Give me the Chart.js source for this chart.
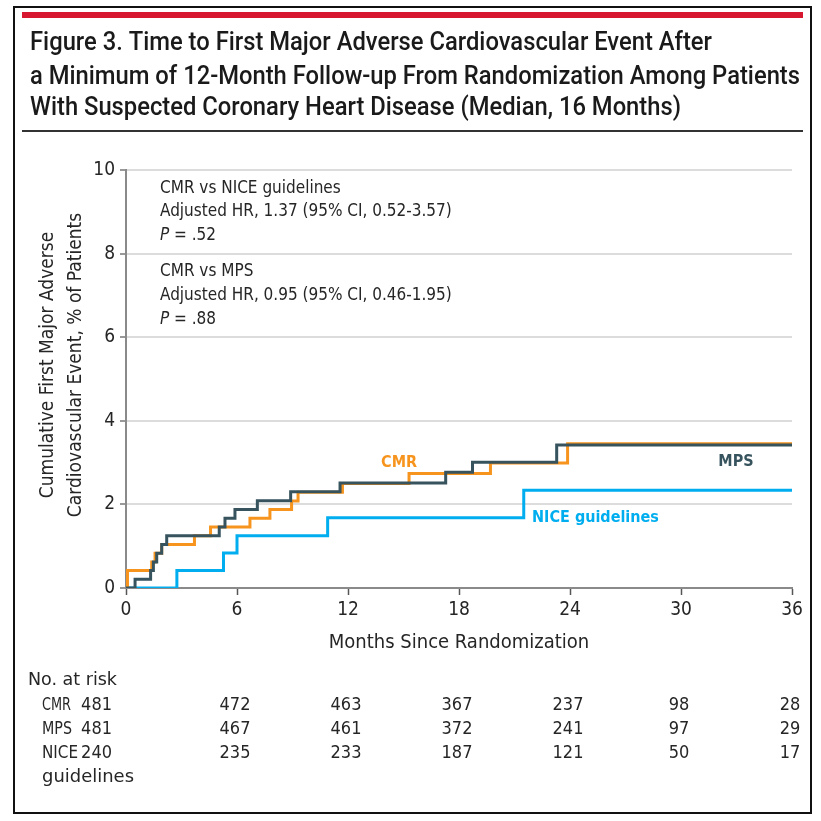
<!DOCTYPE html>
<html>
<head>
<meta charset="utf-8">
<script src="https://cdn.jsdelivr.net/npm/chart.js@4/dist/chart.umd.min.js"></script>
<style>
  html, body { margin: 0; padding: 0; background: #ffffff; }
  #wrap { width: 821px; height: 821px; position: relative; }
  canvas { display: block; }
</style>
</head>
<body>
<div id="wrap"><canvas id="km" width="821" height="821"></canvas></div>
<script>
// ---- Text content ----
const titleLines = [
  'Figure 3. Time to First Major Adverse Cardiovascular Event After',
  'a Minimum of 12-Month Follow-up From Randomization Among Patients',
  'With Suspected Coronary Heart Disease (Median, 16 Months)'
];
const yTitleLines = ['Cumulative First Major Adverse', 'Cardiovascular Event, % of Patients'];
const xTitle = 'Months Since Randomization';

// ---- Axis ticks ----
const monthTicks = [0, 6, 12, 18, 24, 30, 36];
const percentTicks = [0, 2, 4, 6, 8, 10];

// ---- Kaplan-Meier step data: time (months) and cumulative event (%) ----
const mpsTimes  = [0, 0.49, 1.33, 1.48, 1.66, 1.93, 2.2, 5.04, 5.35, 5.89, 7.1, 8.9, 11.57, 17.28, 18.73, 23.28, 36];
const mpsValues = [0, 0.21, 0.42, 0.62, 0.83, 1.04, 1.25, 1.46, 1.67, 1.88, 2.09, 2.30, 2.51, 2.77, 3.01, 3.42, 3.42];

const cmrTimes  = [0, 0.08, 1.39, 1.57, 1.93, 3.7, 4.57, 6.7, 7.78, 8.95, 9.3, 11.7, 15.3, 19.7, 23.87, 36];
const cmrValues = [0, 0.42, 0.62, 0.83, 1.04, 1.25, 1.46, 1.67, 1.88, 2.08, 2.29, 2.50, 2.74, 2.99, 3.45, 3.45];

const niceTimes  = [0, 2.75, 5.27, 6.0, 10.9, 21.5, 36];
const niceValues = [0, 0.42, 0.84, 1.25, 1.68, 2.34, 2.34];

// ---- Numbers at risk ----
const riskLabels = ['CMR', 'MPS', 'NICE'];
const riskCMR  = [481, 472, 463, 367, 237, 98, 28];
const riskMPS  = [481, 467, 461, 372, 241, 97, 29];
const riskNICE = [240, 235, 233, 187, 121, 50, 17];

// ---- Colours ----
const COL_MPS = '#36535e';
const COL_CMR = '#f7941d';
const COL_NICE = '#00aeef';
const TEXT = '#262626';
const FONT = '"DejaVu Sans Condensed", "Liberation Sans Narrow", sans-serif';
const TITLE_FONT = 'Roboto, "Noto Sans", sans-serif';

function toPoints(ts, vs) { return ts.map((t, i) => ({ x: t, y: vs[i] })); }

// draw a string squeezed or stretched horizontally to a given width
function fitText(ctx, text, x, y, width) {
  const w = ctx.measureText(text).width;
  ctx.save();
  ctx.translate(x, y);
  ctx.scale(width / w, 1);
  ctx.fillText(text, 0, 0);
  ctx.restore();
}

const decor = {
  id: 'decor',
  beforeDraw(chart) {
    const ctx = chart.ctx;
    ctx.save();
    ctx.fillStyle = '#ffffff';
    ctx.fillRect(0, 0, chart.width, chart.height);
    ctx.restore();
  },
  afterDraw(chart) {
    const ctx = chart.ctx;
    const xs = chart.scales.x, ys = chart.scales.y;
    const area = chart.chartArea;
    ctx.save();

    // frame
    ctx.strokeStyle = '#111';
    ctx.lineWidth = 2;
    ctx.strokeRect(14, 7, 797, 806);

    // red band
    ctx.fillStyle = '#d7172f';
    ctx.fillRect(22, 12, 781, 6);

    // title
    ctx.fillStyle = '#1a1a1a';
    ctx.textBaseline = 'middle';
    ctx.textAlign = 'left';
    ctx.font = '500 26px ' + TITLE_FONT;
    const titleW = [682, 770, 651];
    const titleY = [43, 77, 108];
    titleLines.forEach((t, i) => fitText(ctx, t, 30, titleY[i], titleW[i]));

    // rule under the title
    ctx.fillStyle = '#333';
    ctx.fillRect(22, 130, 781, 2);

    // y axis title (two lines, rotated)
    ctx.save();
    ctx.fillStyle = TEXT;
    ctx.font = '19px ' + FONT;
    ctx.textAlign = 'center';
    ctx.textBaseline = 'middle';
    ctx.translate(48, 365);
    ctx.rotate(-Math.PI / 2);
    ctx.fillText(yTitleLines[0], 0, 0);
    ctx.fillText(yTitleLines[1], 0, 28);
    ctx.restore();

    // statistics annotation
    ctx.fillStyle = TEXT;
    ctx.font = '17px ' + FONT;
    ctx.textAlign = 'left';
    ctx.textBaseline = 'middle';
    const ax = area.left + 34;
    const pLine = (y, rest) => {
      ctx.font = 'italic 17px ' + FONT;
      ctx.fillText('P', ax, y);
      const w = ctx.measureText('P').width;
      ctx.font = '17px ' + FONT;
      ctx.fillText(rest, ax + w, y);
    };
    ctx.fillText('CMR vs NICE guidelines', ax, 189);
    ctx.fillText('Adjusted HR, 1.37 (95% CI, 0.52-3.57)', ax, 212);
    pLine(236, ' = .52');
    ctx.fillText('CMR vs MPS', ax, 272);
    ctx.fillText('Adjusted HR, 0.95 (95% CI, 0.46-1.95)', ax, 296);
    pLine(320, ' = .88');

    // curve labels
    ctx.font = 'bold 16px ' + FONT;
    ctx.textAlign = 'center';
    ctx.fillStyle = COL_CMR;
    ctx.fillText('CMR', xs.getPixelForValue(14.76), ys.getPixelForValue(3.0));
    ctx.fillStyle = COL_MPS;
    ctx.fillText('MPS', xs.getPixelForValue(32.97), ys.getPixelForValue(3.03));
    ctx.fillStyle = COL_NICE;
    ctx.textAlign = 'left';
    ctx.fillText('NICE guidelines', xs.getPixelForValue(21.95), ys.getPixelForValue(1.67));

    // numbers at risk
    ctx.fillStyle = TEXT;
    ctx.font = '18px ' + FONT;
    ctx.textAlign = 'left';
    fitText(ctx, 'No. at risk', 28, 680, 89);
    const rowY = [705, 729, 753];
    const labelW = [29, 30, 36];
    const rows = [riskCMR, riskMPS, riskNICE];
    rows.forEach((vals, r) => {
      ctx.textAlign = 'left';
      fitText(ctx, riskLabels[r], 42, rowY[r], labelW[r]);
      vals.forEach((v, c) => {
        if (c === 0) {
          ctx.textAlign = 'right';
          ctx.fillText(String(v), 112, rowY[r]);
        } else {
          ctx.textAlign = 'center';
          ctx.fillText(String(v), xs.getPixelForValue(monthTicks[c]) - 2, rowY[r]);
        }
      });
    });
    ctx.textAlign = 'left';
    fitText(ctx, 'guidelines', 42, 777, 92);

    ctx.restore();
  }
};

const stepStyle = (color) => ({
  borderColor: color,
  backgroundColor: color,
  borderWidth: 3,
  stepped: true,
  pointRadius: 0,
  fill: false,
  tension: 0,
  borderCapStyle: 'butt',
  borderJoinStyle: 'miter'
});

new Chart(document.getElementById('km'), {
  type: 'line',
  data: {
    datasets: [
      Object.assign({ label: 'MPS', data: toPoints(mpsTimes, mpsValues) }, stepStyle(COL_MPS)),
      Object.assign({ label: 'CMR', data: toPoints(cmrTimes, cmrValues) }, stepStyle(COL_CMR)),
      Object.assign({ label: 'NICE guidelines', data: toPoints(niceTimes, niceValues) }, stepStyle(COL_NICE))
    ]
  },
  options: {
    responsive: false,
    animation: false,
    devicePixelRatio: 1,
    layout: { padding: { left: 0, top: 170, right: 29, bottom: 163 } },
    plugins: { legend: { display: false }, tooltip: { enabled: false } },
    scales: {
      x: {
        type: 'linear',
        min: 0, max: 36,
        afterBuildTicks: (s) => { s.ticks = monthTicks.map(v => ({ value: v })); },
        afterFit: (s) => { s.height = 70; },
        ticks: { color: TEXT, font: { family: FONT, size: 19 }, padding: 4, maxRotation: 0 },
        grid: { drawOnChartArea: false, drawTicks: true, tickLength: 7, tickColor: '#555', tickWidth: 1.5 },
        border: { display: true, color: '#8a8a8a', width: 2 },
        title: { display: true, text: xTitle, color: TEXT, font: { family: FONT, size: 20 }, padding: { top: 0, bottom: 3 } }
      },
      y: {
        min: 0, max: 10,
        afterBuildTicks: (s) => { s.ticks = percentTicks.map(v => ({ value: v })); },
        afterFit: (s) => { s.width = 126; },
        ticks: { color: TEXT, font: { family: FONT, size: 19 }, padding: 5 },
        grid: { color: '#dcdcdc', lineWidth: 2, drawTicks: true, tickLength: 6, tickColor: '#777', tickWidth: 1.5 },
        border: { display: true, color: '#8a8a8a', width: 2 }
      }
    }
  },
  plugins: [decor]
});
</script>
</body>
</html>
